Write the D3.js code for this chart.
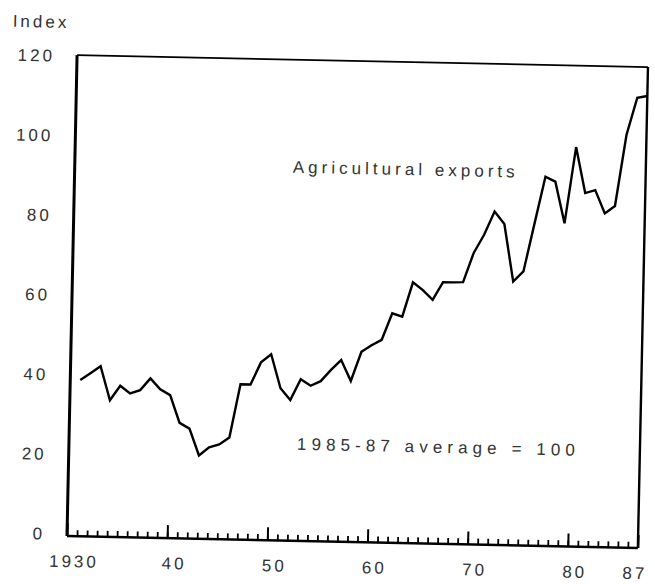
<!DOCTYPE html>
<html>
<head>
<meta charset="utf-8">
<script src="https://cdn.jsdelivr.net/npm/d3@7"></script>
<style>
  body { margin: 0; background: #fff; }
  text { font-family: "Liberation Sans", Arial, sans-serif; }
</style>
</head>
<body>
<div id="chart"></div>
<script>
// Agricultural exports index, 1985-87 average = 100
const firstYear = 1931;
const exportIndex = [38.7, 40.5, 42.3, 33.8, 37.5, 35.6, 36.5, 39.5, 36.8, 35.4,
                     28.5, 27.1, 20.4, 22.5, 23.3, 25.1, 38.5, 38.5, 44.1, 46.2,
                     37.7, 34.8, 40.1, 38.5, 39.7, 42.6, 45.1, 39.9, 47.3, 49.0,
                     50.4, 57.1, 56.3, 65.0, 63.1, 60.7, 65.2, 65.2, 65.3, 72.7,
                     77.3, 83.2, 80.1, 65.7, 68.3, 80.3, 92.2, 91.0, 80.6, 99.8,
                     88.3, 89.1, 83.3, 85.2, 103.1, 112.5, 113.0];
const xTicks = [1930, 1940, 1950, 1960, 1970, 1980, 1987];
const xTickLabels = ["1930", "40", "50", "60", "70", "80", "87"];
const yTicks = [0, 20, 40, 60, 80, 100, 120];

const data = exportIndex.map((v, i) => ({ year: firstYear + i, value: v }));

const width = 655, height = 584;

const svg = d3.select("#chart")
    .append("svg")
    .attr("width", width)
    .attr("height", height)
    .style("background", "#fff");

// the scanned page sits slightly skewed
const g = svg.append("g")
    .attr("transform", "rotate(1.2, 355, 300)");

const x = d3.scaleLinear().domain([1930, 1987]).range([72, 643]);
const y = d3.scaleLinear().domain([0, 120]).range([540, 62]);

const frameL = x(1930), frameR = x(1987);
const frameT = y(120) - 1, frameB = y(0) + 2;

// frame
g.append("line").attr("x1", frameL).attr("x2", frameL).attr("y1", frameT).attr("y2", frameB)
    .attr("stroke", "#000").attr("stroke-width", 3);
g.append("line").attr("x1", frameL).attr("x2", frameR).attr("y1", frameT).attr("y2", frameT)
    .attr("stroke", "#000").attr("stroke-width", 1.8);
g.append("line").attr("x1", frameR).attr("x2", frameR).attr("y1", frameT).attr("y2", frameB)
    .attr("stroke", "#000").attr("stroke-width", 2.4);
g.append("line").attr("x1", frameL).attr("x2", frameR).attr("y1", frameB).attr("y2", frameB)
    .attr("stroke", "#000").attr("stroke-width", 2.4);

// yearly minor ticks
const minor = g.append("g")
    .attr("transform", "translate(0," + frameB + ")")
    .call(d3.axisBottom(x)
        .tickValues(d3.range(1931, 1987))
        .tickSize(-6)
        .tickFormat(""));
minor.select(".domain").remove();
minor.selectAll(".tick line").attr("stroke", "#000").attr("stroke-width", 1.8);

// decade ticks with labels
const major = g.append("g")
    .attr("transform", "translate(0," + frameB + ")")
    .call(d3.axisBottom(x)
        .tickValues(xTicks)
        .tickSize(-13)
        .tickPadding(19)
        .tickFormat((d, i) => xTickLabels[i]));
major.select(".domain").remove();
major.selectAll(".tick line").attr("stroke", "#000").attr("stroke-width", 2);
major.selectAll(".tick text")
    .attr("font-size", 17)
    .attr("letter-spacing", 3)
    .attr("dx", d => d === 1987 ? -3 : 7)
    .attr("fill", "#333")
    .style("font-family", "'Liberation Sans', Arial, sans-serif");

// y axis labels only
const yAxis = g.append("g")
    .attr("transform", "translate(" + frameL + ",0)")
    .call(d3.axisLeft(y)
        .tickValues(yTicks)
        .tickSize(0)
        .tickPadding(22));
yAxis.select(".domain").remove();
yAxis.selectAll(".tick text")
    .attr("font-size", 17)
    .attr("letter-spacing", 3)
    .attr("fill", "#333")
    .style("font-family", "'Liberation Sans', Arial, sans-serif");

// the series
const line = d3.line()
    .x(d => x(d.year))
    .y(d => y(d.value));

g.append("path")
    .datum(data)
    .attr("fill", "none")
    .attr("stroke", "#000")
    .attr("stroke-width", 2.4)
    .attr("stroke-linejoin", "miter")
    .attr("d", line);

// texts
g.append("text")
    .attr("x", 7)
    .attr("y", 34)
    .attr("font-size", 17)
    .attr("letter-spacing", 3)
    .attr("fill", "#333")
    .text("Index");

g.append("text")
    .attr("x", 290)
    .attr("y", 174)
    .attr("font-size", 17)
    .attr("textLength", 222)
    .attr("lengthAdjust", "spacing")
    .attr("fill", "#333")
    .text("Agricultural exports");

g.append("text")
    .attr("x", 300)
    .attr("y", 451)
    .attr("font-size", 17)
    .attr("textLength", 278)
    .attr("lengthAdjust", "spacing")
    .attr("fill", "#333")
    .text("1985-87 average = 100");
</script>
</body>
</html>
